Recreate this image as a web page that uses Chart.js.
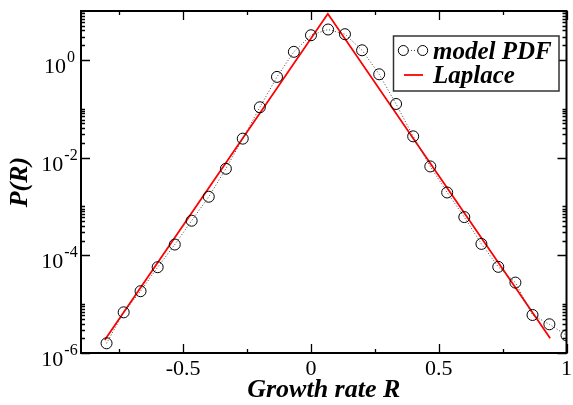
<!DOCTYPE html>
<html>
<head>
<meta charset="utf-8">
<script src="https://cdn.jsdelivr.net/npm/chart.js@4/dist/chart.umd.min.js"></script>
<style>
    html, body { margin: 0; padding: 0; background: #fff; }
    canvas { display: block; }
</style>
</head>
<body>
<canvas id="chart" width="573" height="405"></canvas>
<script>
// growth rate values of the model points
var growthRate = [-0.8, -0.733, -0.667, -0.6, -0.533, -0.467, -0.4, -0.333, -0.267, -0.2,
    -0.133, -0.067, 0, 0.067, 0.133, 0.2, 0.267, 0.333, 0.4, 0.467,
    0.533, 0.6, 0.667, 0.733, 0.8, 0.867, 0.933, 1.0];
var modelPdf = [1.58e-6, 6.8e-6, 1.84e-5, 5.7e-5, 1.66e-4, 5.1e-4, 1.58e-3, 5.9e-3, 0.0244, 0.107,
    0.448, 1.46, 3.19, 4.18, 3.35, 1.57, 0.507, 0.125, 0.0272, 0.00659,
    0.00193, 6.05e-4, 1.71e-4, 5.8e-5, 2.76e-5, 6.0e-6, 3.87e-6, 2.3e-6];

// laplace fit (straight in log space, so its corners are enough)
var laplaceX = [-0.807, 0.066, 0.936];
var laplaceY = [1.85e-6, 8.77, 2.0e-6];

var xMajorTicks = [-0.5, 0, 0.5, 1];
var xMinorTicks = [-0.75, -0.25, 0.25, 0.75];
var yMajorExp = [-6, -4, -2, 0];
var yMinorMult = [2, 3, 4, 5, 6, 7, 8, 9, 10];

var sSerif = '"Liberation Serif", "DejaVu Serif", serif';

function toPoints(aX, aY) {
    return aX.map(function (x, i) { return {x: x, y: aY[i]}; });
}

var oFramePlugin = {
    id: 'frame',
    afterDraw: function (chart) {
        var ctx = chart.ctx;
        var a = chart.chartArea;
        var sx = chart.scales.x;
        var sy = chart.scales.y;

        ctx.save();
        ctx.strokeStyle = '#000';

        // inward ticks on all four sides
        ctx.lineWidth = 1.3;
        function xTick(v, len) {
            var px = Math.round(sx.getPixelForValue(v)) + 0.5;
            ctx.beginPath();
            ctx.moveTo(px, a.bottom); ctx.lineTo(px, a.bottom - len);
            ctx.moveTo(px, a.top); ctx.lineTo(px, a.top + len);
            ctx.stroke();
        }
        function yTick(v, len) {
            var py = Math.round(sy.getPixelForValue(v)) + 0.5;
            ctx.beginPath();
            ctx.moveTo(a.left, py); ctx.lineTo(a.left + len, py);
            ctx.moveTo(a.right, py); ctx.lineTo(a.right - len, py);
            ctx.stroke();
        }
        xMajorTicks.forEach(function (v) { xTick(v, 9); });
        xMinorTicks.forEach(function (v) { xTick(v, 4); });
        yMajorExp.forEach(function (e) {
            yTick(Math.pow(10, e), 9);
            yMinorMult.forEach(function (m) { yTick(m * Math.pow(10, e), 4); });
        });

        // frame
        ctx.lineWidth = 2;
        ctx.strokeRect(a.left, a.top, a.right - a.left, a.bottom - a.top);

        // x tick labels
        ctx.fillStyle = '#000';
        ctx.font = '22px ' + sSerif;
        ctx.textAlign = 'center';
        ctx.textBaseline = 'alphabetic';
        xMajorTicks.forEach(function (v) {
            ctx.fillText(String(v), sx.getPixelForValue(v), a.bottom + 22);
        });

        // y tick labels, 10 with a raised exponent, centred on one column
        yMajorExp.forEach(function (e) {
            var py = sy.getPixelForValue(Math.pow(10, e));
            var sExp = e < 0 ? '-' + (-e) : String(e);
            ctx.font = '16px ' + sSerif;
            var wExp = ctx.measureText(sExp).width;
            ctx.font = '22px ' + sSerif;
            var wBase = ctx.measureText('10').width;
            var xLeft = 59.5 - (wBase + 1 + wExp) / 2;
            ctx.textAlign = 'left';
            ctx.fillText('10', xLeft, py + 13);
            ctx.font = '16px ' + sSerif;
            ctx.fillText(sExp, xLeft + wBase + 1, py + 2);
        });

        // axis titles
        ctx.font = 'italic bold 26px ' + sSerif;
        ctx.textAlign = 'center';
        ctx.fillText('Growth rate R', (a.left + a.right) / 2, 397);
        ctx.save();
        ctx.translate(27, (a.top + a.bottom) / 2);
        ctx.rotate(-Math.PI / 2);
        ctx.fillText('P(R)', 0, 0);
        ctx.restore();

        // legend box
        ctx.fillStyle = '#fff';
        ctx.fillRect(393, 36, 166, 55);
        ctx.strokeStyle = '#333';
        ctx.lineWidth = 1.5;
        ctx.strokeRect(393.5, 36, 165.5, 55);

        ctx.strokeStyle = '#444';
        ctx.lineWidth = 1;
        ctx.setLineDash([1, 2]);
        ctx.beginPath();
        ctx.moveTo(408, 50.5); ctx.lineTo(418, 50.5);
        ctx.stroke();
        ctx.setLineDash([]);
        ctx.strokeStyle = '#000';
        [403.3, 422.7].forEach(function (cx) {
            ctx.beginPath();
            ctx.arc(cx, 50.5, 5, 0, Math.PI * 2);
            ctx.stroke();
        });
        ctx.strokeStyle = '#ff0000';
        ctx.lineWidth = 1.8;
        ctx.beginPath();
        ctx.moveTo(404, 75); ctx.lineTo(423, 75);
        ctx.stroke();

        ctx.fillStyle = '#000';
        ctx.font = 'italic bold 25px ' + sSerif;
        ctx.textAlign = 'left';
        ctx.fillText('model PDF', 433, 59);
        ctx.fillText('Laplace', 433, 83);

        ctx.restore();
    }
};

var oChart = new Chart(document.getElementById('chart'), {
    type: 'scatter',
    data: {
        datasets: [{
            label: 'model PDF',
            data: toPoints(growthRate, modelPdf),
            showLine: true,
            borderColor: '#444',
            borderWidth: 1,
            borderDash: [1, 2],
            pointRadius: 5.5,
            pointBorderWidth: 1,
            pointBorderColor: '#000',
            pointBackgroundColor: 'rgba(0,0,0,0)',
            clip: 0
        }, {
            label: 'Laplace',
            data: toPoints(laplaceX, laplaceY),
            showLine: true,
            borderColor: '#ff0000',
            borderWidth: 1.8,
            pointRadius: 0,
            clip: 0
        }]
    },
    options: {
        responsive: false,
        animation: false,
        devicePixelRatio: 1,
        layout: {padding: {left: 81, right: 4, top: 11, bottom: 52}},
        scales: {
            x: {type: 'linear', min: -0.9, max: 1, display: false},
            y: {type: 'logarithmic', min: 1e-6, max: 10, display: false}
        },
        plugins: {
            legend: {display: false},
            tooltip: {enabled: false}
        }
    },
    plugins: [oFramePlugin]
});
</script>
</body>
</html>
